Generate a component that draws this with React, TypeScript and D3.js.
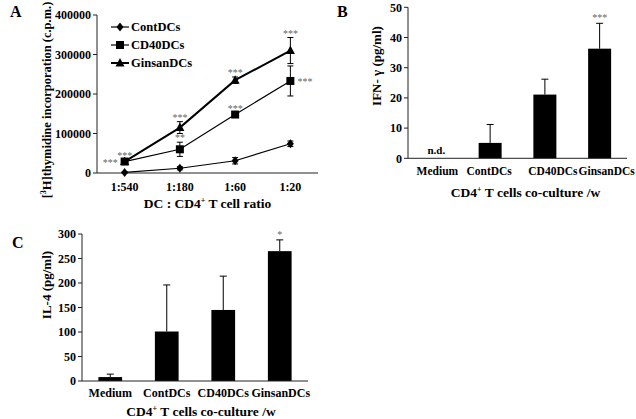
import React from "react";
import * as d3 from "d3";

// ---------- Panel A data ----------
const ratios = ["1:540", "1:180", "1:60", "1:20"];
const contVals = [1500, 12000, 31000, 74000];
const contErr = [1500, 4000, 8000, 7000];
const cd40Vals = [29000, 60000, 148000, 233000];
const cd40Err = [3000, 18000, 5000, 38000];
const ginsanVals = [29000, 115000, 235000, 310000];
const ginsanErr = [3000, 15000, 8000, 33000];
const aTicks = [0, 100000, 200000, 300000, 400000];
// annotations: [series, index, label, placement]
const aStars: [string, number, string, string][] = [
  ["GinsanDCs", 0, "***", "above"],
  ["CD40DCs", 0, "***", "left"],
  ["GinsanDCs", 1, "***", "above"],
  ["CD40DCs", 1, "**", "above"],
  ["GinsanDCs", 2, "***", "above"],
  ["CD40DCs", 2, "***", "above"],
  ["GinsanDCs", 3, "***", "above"],
  ["CD40DCs", 3, "***", "right"],
];

// ---------- Panel B data ----------
const groups = ["Medium", "ContDCs", "CD40DCs", "GinsanDCs"];
const ifnVals = [0, 5.1, 21.1, 36.3];
const ifnErr = [0, 6.1, 5.1, 8.4];
const ifnStars = ["", "", "", "***"];
const bTicks = [0, 10, 20, 30, 40, 50];

// ---------- Panel C data ----------
const il4Vals = [8, 101, 145, 265];
const il4Err = [6, 95, 69, 23];
const il4Stars = ["", "", "", "*"];
const cTicks = [0, 50, 100, 150, 200, 250, 300];

// layout (label nudges as in the original figure)
const B_LABEL_SHIFT = [2, -1, 8, 7];
const C_LABEL_SHIFT = [0, 0, 0, 1];

const FONT = "'Liberation Serif', 'Times New Roman', serif";
const AX = "#222";

const series = [
  { name: "ContDCs", vals: contVals, err: contErr, marker: "diamond", w: 1.2 },
  { name: "CD40DCs", vals: cd40Vals, err: cd40Err, marker: "square", w: 1.2 },
  { name: "GinsanDCs", vals: ginsanVals, err: ginsanErr, marker: "triangle", w: 2 },
];

function Marker({ type, x, y }: { type: string; x: number; y: number }) {
  if (type === "diamond")
    return <path d={`M${x},${y - 4.5}L${x + 3.5},${y}L${x},${y + 4.5}L${x - 3.5},${y}Z`} fill="#000" />;
  if (type === "square") return <rect x={x - 4} y={y - 4} width={8} height={8} fill="#000" />;
  return <path d={`M${x},${y - 5}L${x + 4.5},${y + 3.5}L${x - 4.5},${y + 3.5}Z`} fill="#000" />;
}

function YAxis({ scale, ticks, x }: { scale: any; ticks: number[]; x: number }) {
  const [r0, r1] = scale.range();
  return (
    <g>
      <line x1={x} x2={x} y1={r0} y2={r1} stroke={AX} />
      {ticks.map((t) => (
        <g key={t}>
          <line x1={x - 4} x2={x} y1={scale(t)} y2={scale(t)} stroke={AX} />
          <text x={x - 6} y={scale(t)} dy="0.35em" textAnchor="end" fontSize={12} fontWeight="bold" fontFamily={FONT}>
            {String(t)}
          </text>
        </g>
      ))}
    </g>
  );
}

function PanelA() {
  const x = d3.scalePoint<string>().domain(ratios).range([97, 318]).padding(0.5);
  const y = d3.scaleLinear().domain([0, 400000]).range([173, 15]);
  const line = d3
    .line<number>()
    .x((_, i) => x(ratios[i]) as number)
    .y((d) => y(d));
  const byName: Record<string, any> = {};
  series.forEach((s) => (byName[s.name] = s));
  return (
    <g>
      <text x={10} y={17} fontSize={16} fontWeight="bold" fontFamily={FONT}>A</text>
      <YAxis scale={y} ticks={aTicks} x={97} />
      <line x1={97} x2={318} y1={173} y2={173} stroke={AX} />
      {ratios.map((r) => (
        <text key={r} x={x(r)} y={191} textAnchor="middle" fontSize={12} fontWeight="bold" fontFamily={FONT}>
          {r}
        </text>
      ))}
      <text x={207.5} y={208} textAnchor="middle" fontSize={13.5} fontWeight="bold" fontFamily={FONT}>
        DC : CD4<tspan fontSize={8} dy={-5}>+</tspan>
        <tspan dy={5}> T cell ratio</tspan>
      </text>
      <text
        transform="translate(51,100) rotate(-90)"
        textAnchor="middle"
        fontSize={12.5}
        fontWeight="bold"
        fontFamily={FONT}
      >
        [<tspan fontSize={8} dy={-5}>3</tspan>
        <tspan dy={5}>H]thymidine incorporation (c.p.m.)</tspan>
      </text>
      {series.map((s) => (
        <g key={s.name}>
          <path d={line(s.vals) as string} fill="none" stroke="#000" strokeWidth={s.w} />
          {s.vals.map((v, i) => {
            const cx = x(ratios[i]) as number;
            const e = s.err[i];
            return (
              <g key={i}>
                <line x1={cx} x2={cx} y1={y(v - e)} y2={y(v + e)} stroke="#000" strokeWidth={1} />
                <line x1={cx - 3} x2={cx + 3} y1={y(v + e)} y2={y(v + e)} stroke="#000" />
                <line x1={cx - 3} x2={cx + 3} y1={y(v - e)} y2={y(v - e)} stroke="#000" />
                <Marker type={s.marker} x={cx} y={y(v)} />
              </g>
            );
          })}
        </g>
      ))}
      {aStars.map(([name, i, lab, pos], k) => {
        const s = byName[name];
        const cx = x(ratios[i]) as number;
        const top = y(s.vals[i] + s.err[i]);
        let tx = cx,
          ty = top - 1,
          anchor = "middle";
        if (pos === "left") {
          tx = cx - 7;
          ty = y(s.vals[i]) + 4;
          anchor = "end";
        } else if (pos === "right") {
          tx = cx + 7;
          ty = y(s.vals[i]) + 4;
          anchor = "start";
        }
        return (
          <text key={k} x={tx} y={ty} textAnchor={anchor} fontSize={10} fill="#666" fontFamily={FONT}>
            {lab}
          </text>
        );
      })}
      {series.map((s, i) => (
        <g key={s.name}>
          <line x1={111} x2={129} y1={27 + i * 18} y2={27 + i * 18} stroke="#000" strokeWidth={s.w} />
          <Marker type={s.marker} x={120} y={27 + i * 18} />
          <text x={131} y={27 + i * 18} dy="0.35em" fontSize={12.5} fontWeight="bold" fontFamily={FONT}>
            {s.name}
          </text>
        </g>
      ))}
    </g>
  );
}

function BarPanel({
  letter,
  letterPos,
  vals,
  err,
  stars,
  ticks,
  yDomain,
  yRange,
  xRange,
  ylabel,
  ylabelPos,
  tickY,
  tickFont,
  titleY,
  titleShift,
  labelShift,
  nd,
}: any) {
  const x = d3.scaleBand<string>().domain(groups).range(xRange).paddingInner(0.58).paddingOuter(0.29);
  const y = d3.scaleLinear().domain(yDomain).range(yRange);
  const bw = x.bandwidth();
  const x0 = xRange[0];
  return (
    <g>
      <text x={letterPos[0]} y={letterPos[1]} fontSize={16} fontWeight="bold" fontFamily={FONT}>{letter}</text>
      {groups.map((g, i) => {
        const bx = x(g) as number;
        const v = vals[i];
        const cx = bx + bw / 2;
        if (nd && v === 0)
          return (
            <text key={g} x={cx + 1} y={yRange[0] - 4} textAnchor="middle" fontSize={11} fontWeight="bold" fontFamily={FONT}>
              n.d.
            </text>
          );
        return (
          <g key={g}>
            <line x1={cx} x2={cx} y1={y(v)} y2={y(v + err[i])} stroke="#000" />
            <line x1={cx - 3.5} x2={cx + 3.5} y1={y(v + err[i])} y2={y(v + err[i])} stroke="#000" />
            <rect x={bx} y={y(v)} width={bw} height={y(0) - y(v)} fill="#000" />
            {stars[i] ? (
              <text x={cx} y={y(v + err[i]) - 2} textAnchor="middle" fontSize={10} fill="#666" fontFamily={FONT}>
                {stars[i]}
              </text>
            ) : null}
          </g>
        );
      })}
      <YAxis scale={y} ticks={ticks} x={x0} />
      <line x1={x0} x2={xRange[1]} y1={yRange[0]} y2={yRange[0]} stroke={AX} />
      {groups.map((g, i) => (
        <text
          key={g}
          x={(x(g) as number) + bw / 2 + labelShift[i]}
          y={tickY}
          textAnchor="middle"
          fontSize={tickFont}
          fontWeight="bold"
          fontFamily={FONT}
        >
          {g}
        </text>
      ))}
      <text
        x={(xRange[0] + xRange[1]) / 2 + titleShift}
        y={titleY}
        textAnchor="middle"
        fontSize={13.5}
        fontWeight="bold"
        fontFamily={FONT}
      >
        CD4<tspan fontSize={8} dy={-5}>+</tspan>
        <tspan dy={5}> T cells co-culture /w</tspan>
      </text>
      <text
        transform={`translate(${ylabelPos[0]},${ylabelPos[1]}) rotate(-90)`}
        textAnchor="middle"
        fontSize={13}
        fontWeight="bold"
        fontFamily={FONT}
      >
        {ylabel}
      </text>
    </g>
  );
}

export default function App() {
  return (
    <svg width={636} height={419} style={{ position: "absolute", left: 0, top: 0, background: "#fff" }}>
      <rect width={636} height={419} fill="#fff" />
      <PanelA />
      <BarPanel
        letter="B"
        letterPos={[337, 17]}
        vals={ifnVals}
        err={ifnErr}
        stars={ifnStars}
        ticks={bTicks}
        yDomain={[0, 50]}
        yRange={[158.3, 7.3]}
        xRange={[408, 627]}
        ylabel="IFN- γ (pg/ml)"
        ylabelPos={[381, 66]}
        tickY={175}
        tickFont={11.5}
        titleY={197}
        titleShift={8}
        labelShift={B_LABEL_SHIFT}
        nd
      />
      <BarPanel
        letter="C"
        letterPos={[12, 248]}
        vals={il4Vals}
        err={il4Err}
        stars={il4Stars}
        ticks={cTicks}
        yDomain={[0, 300]}
        yRange={[381, 234]}
        xRange={[82, 308]}
        ylabel="IL-4 (pg/ml)"
        ylabelPos={[51, 285]}
        tickY={397}
        tickFont={12}
        titleY={416}
        titleShift={6}
        labelShift={C_LABEL_SHIFT}
      />
    </svg>
  );
}
